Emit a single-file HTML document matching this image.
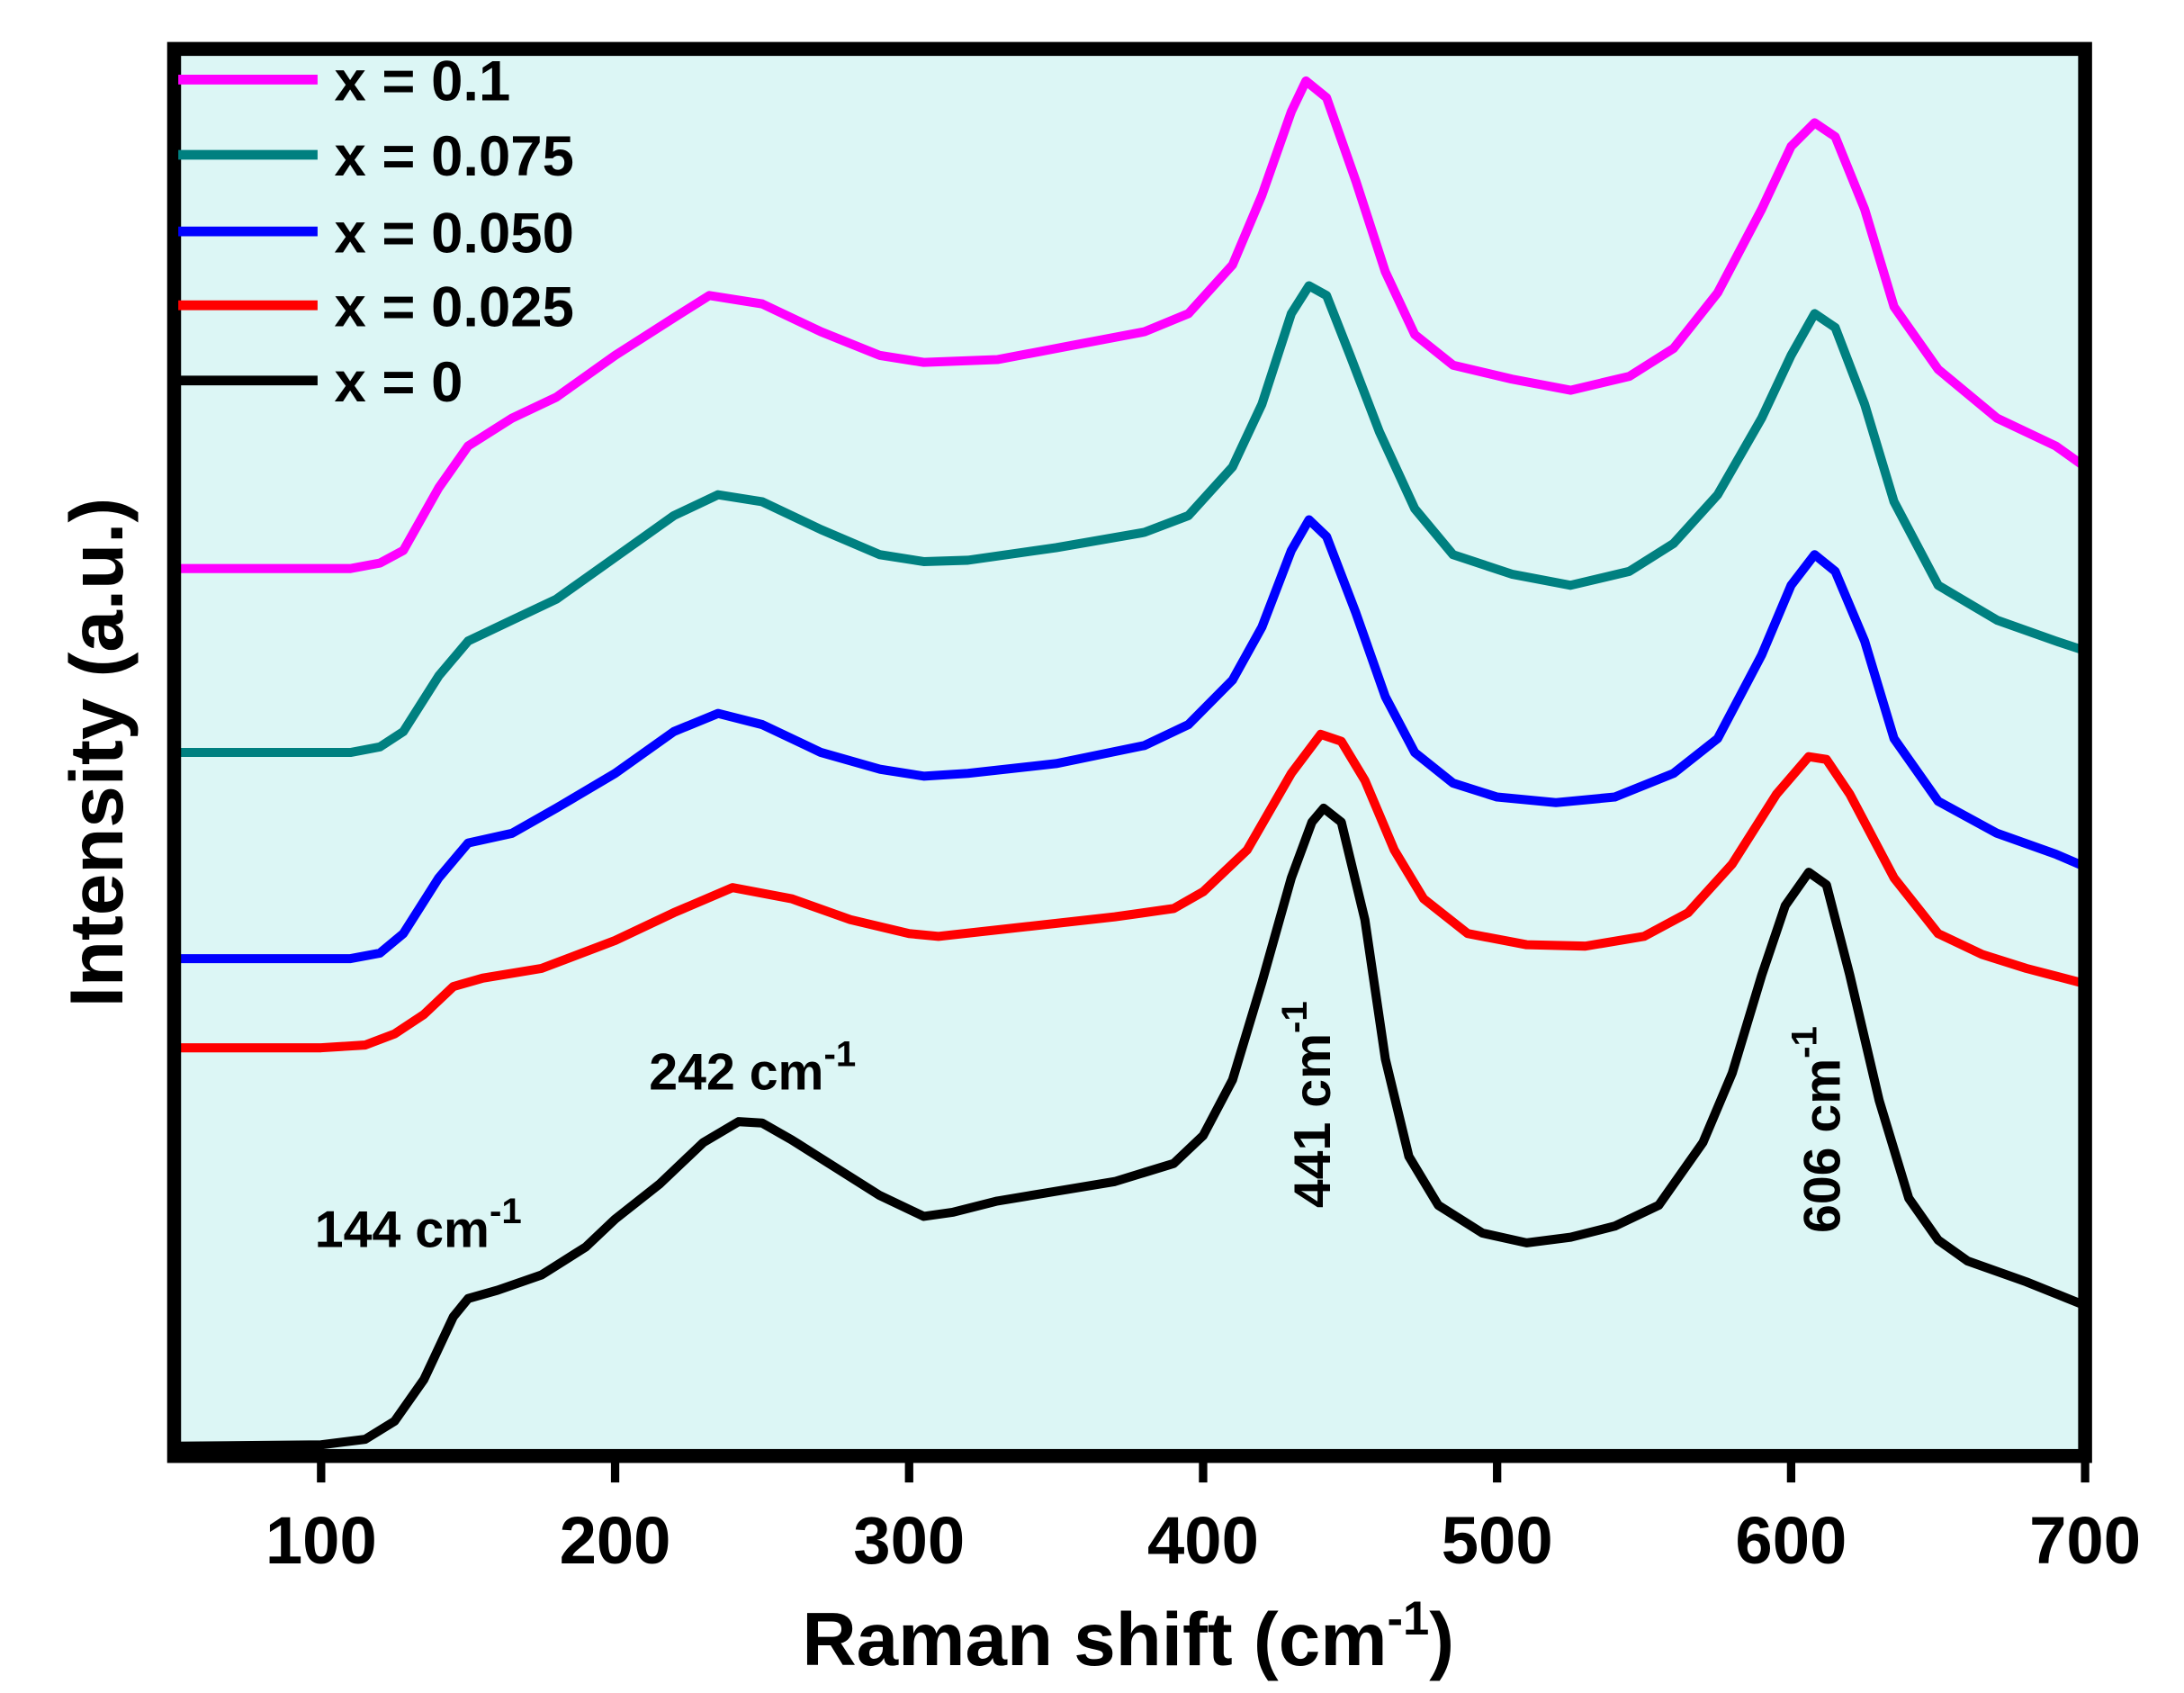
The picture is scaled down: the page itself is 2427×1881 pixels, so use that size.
<!DOCTYPE html>
<html><head><meta charset="utf-8"><style>
html,body{margin:0;padding:0;background:#fff;}
svg{display:block;}
text{font-family:"Liberation Sans",Arial,sans-serif;font-weight:bold;fill:#000;}
</style></head><body>
<svg id="chart" width="2427" height="1881" viewBox="0 0 1568 1215" xmlns="http://www.w3.org/2000/svg">
<rect x="125" y="35" width="1372" height="1010" fill="#dcf6f5"/>
<g id="series"></g>
<rect x="125" y="35" width="1372" height="1010" fill="none" stroke="#000" stroke-width="10"/>
<g id="xticks"></g>
<text x="810" y="1195" font-size="54" text-anchor="middle">Raman shift (cm<tspan font-size="34" dy="-22">-1</tspan><tspan dy="22">)</tspan></text>
<text transform="translate(88,540) rotate(-90)" font-size="54" text-anchor="middle">Intensity (a.u.)</text>
<text x="226" y="895" font-size="37">144 cm<tspan font-size="26" dy="-17">-1</tspan></text>
<text x="466" y="782" font-size="37">242 cm<tspan font-size="26" dy="-17">-1</tspan></text>
<text transform="translate(955,867) rotate(-90)" font-size="37">441 cm<tspan font-size="26" dy="-17">-1</tspan></text>
<text transform="translate(1321,885) rotate(-90)" font-size="37">606 cm<tspan font-size="26" dy="-17">-1</tspan></text>
<g id="legend"></g>
</svg>
<script>
const NS="http://www.w3.org/2000/svg";
const xTicks=[100,200,300,400,500,600,700];
const seriesLabels=["x = 0.1","x = 0.075","x = 0.050","x = 0.025","x = 0"];
const seriesColors=["#ff00ff","#008080","#0000ff","#ff0000","#000000"];
const xsPink=[50,110,120,128,140,150,165,180,200,220,232,250,270,290,305,330,350,380,395,410,420,430,435,442,452,462,472,485,505,525,545,560,575,590,600,608,615,625,635,650,670,690,700];
const ysPink=[632,632,636,645,690,720,740,755,785,812,828,822,802,785,780,782,790,802,815,850,900,960,982,970,910,845,800,778,768,760,770,790,830,890,935,952,942,890,820,775,740,720,705];
const xsTeal=[50,110,120,128,140,150,165,180,200,220,235,250,270,290,305,320,350,380,395,410,420,430,436,442,450,460,472,485,505,525,545,560,575,590,600,608,615,625,635,650,670,690,700];
const ysTeal=[500,500,504,515,555,580,595,610,640,670,685,680,660,642,637,638,647,658,670,705,750,815,835,828,785,730,675,642,628,620,630,650,685,740,785,815,805,750,680,620,595,580,573];
const xsBlue=[50,110,120,128,140,150,165,180,200,220,235,250,270,290,305,320,350,380,395,410,420,430,436,442,452,462,472,485,500,520,540,560,575,590,600,608,615,625,635,650,670,690,700];
const ysBlue=[352,352,356,370,410,435,442,460,485,515,528,520,500,488,483,485,492,505,520,552,590,645,667,655,600,540,500,478,468,464,468,485,510,570,620,642,630,580,510,465,442,427,418];
const xsRed=[50,100,115,125,135,145,155,175,200,220,240,260,280,300,310,340,370,390,400,415,430,440,447,455,465,475,490,510,530,550,565,580,595,606,612,620,635,650,665,680,700];
const ysRed=[288,288,290,298,312,332,338,345,365,385,403,395,380,370,368,375,382,388,400,430,485,513,508,480,430,395,370,362,361,368,385,420,470,497,495,470,410,370,355,345,334];
const xsBlack=[50,100,115,125,135,145,150,160,175,190,200,215,230,242,250,260,275,290,305,315,330,350,370,390,400,410,420,430,437,441,447,455,462,470,480,495,510,525,540,555,570,580,590,598,606,612,620,630,640,650,660,680,700];
const ysBlack=[2,3,7,20,50,95,108,114,125,145,165,190,220,235,234,222,202,182,167,170,178,185,192,205,225,265,335,410,450,460,450,380,280,210,175,155,148,152,160,175,220,270,340,390,414,405,340,250,180,150,135,120,103];
const seriesX=[xsPink,xsTeal,xsBlue,xsRed,xsBlack];
const seriesY=[ysPink,ysTeal,ysBlue,ysRed,ysBlack];
const seriesNames=["series-x-0.1","series-x-0.075","series-x-0.050","series-x-0.025","series-x-0"];
function xPos(v){return 125+(v-50)*(1372/650);}
function yPos(v){return 1040-v;}
const sg=document.getElementById('series');
for(let i=seriesX.length-1;i>=0;i--){
  const p=document.createElementNS(NS,'polyline');
  
  
  p.setAttribute('points',seriesX[i].map((x,j)=>xPos(x).toFixed(1)+','+yPos(seriesY[i][j]).toFixed(1)).join(' '));
  p.setAttribute('fill','none');p.setAttribute('stroke',seriesColors[i]);
  p.setAttribute('stroke-width','6.5');p.setAttribute('stroke-linejoin','round');
  sg.appendChild(p);
}
const xt=document.getElementById('xticks');
xTicks.forEach(v=>{
  const l=document.createElementNS(NS,'line');
  
  
  l.setAttribute('x1',xPos(v));l.setAttribute('x2',xPos(v));l.setAttribute('y1',1049);l.setAttribute('y2',1064);
  l.setAttribute('stroke','#000');l.setAttribute('stroke-width','6');xt.appendChild(l);
  const t=document.createElementNS(NS,'text');
  
  
  t.setAttribute('x',xPos(v));t.setAttribute('y',1122);t.setAttribute('font-size','48');t.setAttribute('text-anchor','middle');
  t.textContent=v;xt.appendChild(t);
});
const lg=document.getElementById('legend');
const legY=[57,111,166,219,273];
seriesLabels.forEach((s,i)=>{
  const l=document.createElementNS(NS,'line');
  
  
  l.setAttribute('x1',128);l.setAttribute('x2',228);l.setAttribute('y1',legY[i]);l.setAttribute('y2',legY[i]);
  l.setAttribute('stroke',seriesColors[i]);l.setAttribute('stroke-width','7');lg.appendChild(l);
  const t=document.createElementNS(NS,'text');
  
  
  t.setAttribute('x',240);t.setAttribute('y',legY[i]+15);t.setAttribute('font-size','41');
  t.textContent=s;lg.appendChild(t);
});
</script>
</body></html>
